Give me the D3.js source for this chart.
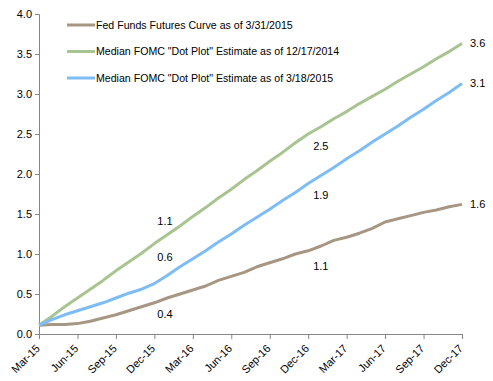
<!DOCTYPE html>
<html><head><meta charset="utf-8">
<script src="https://cdn.jsdelivr.net/npm/d3@7"></script>
<style>body{margin:0;background:#fff}svg{display:block}text{font-family:Arial,"Liberation Sans",sans-serif;font-size:11px;fill:#000}</style>
</head><body><svg id="c" width="493" height="381"></svg>
<script>
const months = ["Mar-15","Apr-15","May-15","Jun-15","Jul-15","Aug-15","Sep-15","Oct-15","Nov-15","Dec-15",
"Jan-16","Feb-16","Mar-16","Apr-16","May-16","Jun-16","Jul-16","Aug-16","Sep-16","Oct-16","Nov-16","Dec-16",
"Jan-17","Feb-17","Mar-17","Apr-17","May-17","Jun-17","Jul-17","Aug-17","Sep-17","Oct-17","Nov-17","Dec-17"];
const tickLabels = ["Mar-15","Jun-15","Sep-15","Dec-15","Mar-16","Jun-16","Sep-16","Dec-16","Mar-17","Jun-17","Sep-17","Dec-17"];
const yTicks = [0,0.5,1,1.5,2,2.5,3,3.5,4];
const futures = [0.11,0.12,0.12,0.13,0.16,0.20,0.24,0.29,0.34,0.39,0.45,0.50,0.55,0.60,0.67,0.72,0.77,0.84,0.89,0.94,1.00,1.04,1.10,1.17,1.21,1.26,1.32,1.40,1.44,1.48,1.52,1.55,1.59,1.62];
const dec2014 = [0.11,0.22,0.34,0.45,0.56,0.67,0.79,0.90,1.01,1.13,1.24,1.35,1.47,1.58,1.70,1.81,1.93,2.04,2.16,2.27,2.39,2.50,2.59,2.69,2.78,2.88,2.97,3.06,3.16,3.25,3.34,3.44,3.53,3.63];
const mar2015 = [0.11,0.18,0.24,0.29,0.34,0.39,0.45,0.51,0.56,0.63,0.73,0.84,0.94,1.04,1.15,1.25,1.36,1.46,1.56,1.67,1.77,1.88,1.98,2.08,2.19,2.29,2.40,2.50,2.60,2.71,2.81,2.92,3.02,3.13];
const seriesNames = ["Fed Funds Futures Curve as of 3/31/2015","Median FOMC \"Dot Plot\" Estimate as of 12/17/2014","Median FOMC \"Dot Plot\" Estimate as of 3/18/2015"];
const colors = ["#A69684","#A8C491","#7EBDF4"];
// labels: series index, month index, text
const labels = [
  {s:0,i:9,t:"0.4"},{s:1,i:9,t:"1.1"},{s:2,i:9,t:"0.6"},
  {s:0,i:21,t:"1.1"},{s:1,i:21,t:"2.5"},{s:2,i:21,t:"1.9"},
  {s:0,i:33,t:"1.6"},{s:1,i:33,t:"3.6"},{s:2,i:33,t:"3.1"}
];
const series = [futures, dec2014, mar2015];

const svg = d3.select("#c");
const x = d3.scaleLinear().domain([0, months.length-1]).range([39, 462]);
const y = d3.scaleLinear().domain([0,4]).range([334, 14]);

// Y axis
const ya = svg.append("g").attr("transform","translate(39,0)")
  .call(d3.axisLeft(y).tickValues(yTicks).tickFormat(d3.format(".1f")).tickSize(4).tickPadding(3));
ya.select(".domain").attr("stroke","#868686");
ya.selectAll(".tick line").attr("stroke","#868686");
ya.selectAll("text").style("font-size","11px").attr("fill","#000");

// X axis
const xa = svg.append("g").attr("transform","translate(0,334)")
  .call(d3.axisBottom(x).tickValues(tickLabels.map(t=>months.indexOf(t))).tickFormat(i=>months[i]).tickSize(5).tickSizeOuter(0));
xa.select(".domain").attr("stroke","#868686");
xa.selectAll(".tick line").attr("stroke","#868686");
xa.selectAll("text").style("font-size","11px").attr("fill","#000")
  .attr("text-anchor","end").attr("dy",null).attr("y",null)
  .attr("transform","translate(-1,13) rotate(-45)").attr("dominant-baseline","middle");

// Lines
const line = d3.line().x((d,i)=>x(i)).y(d=>y(d));
series.forEach((s,k)=>{
  svg.append("path").datum(s).attr("d",line).attr("fill","none")
    .attr("stroke",colors[k]).attr("stroke-width",3).attr("stroke-linejoin","round");
});

// Data labels (placement offsets in px, by series / position)
const placeDec15 = {0:[3,11], 1:[3,-22], 2:[3,-26]};
const placeDec16 = {0:[5,15], 1:[5,12], 2:[5,12]};
labels.forEach(l=>{
  const v = series[l.s][l.i];
  let dx, dyp;
  if (l.i === 33) { dx = 8; dyp = 0; }
  else if (l.i === 9) { [dx, dyp] = placeDec15[l.s]; }
  else { [dx, dyp] = placeDec16[l.s]; }
  svg.append("text").attr("x",x(l.i)+dx).attr("y",y(v)+dyp).attr("dy","0.35em").text(l.t);
});

// Legend
const lg = svg.append("g");
seriesNames.forEach((n,k)=>{
  const yy = 25 + k*26.5;
  lg.append("line").attr("x1",67).attr("x2",95).attr("y1",yy).attr("y2",yy).attr("stroke",colors[k]).attr("stroke-width",3);
  lg.append("text").attr("x",96).attr("y",yy).attr("dy","0.35em").style("font-size","10.6px").text(n);
});
</script></body></html>
